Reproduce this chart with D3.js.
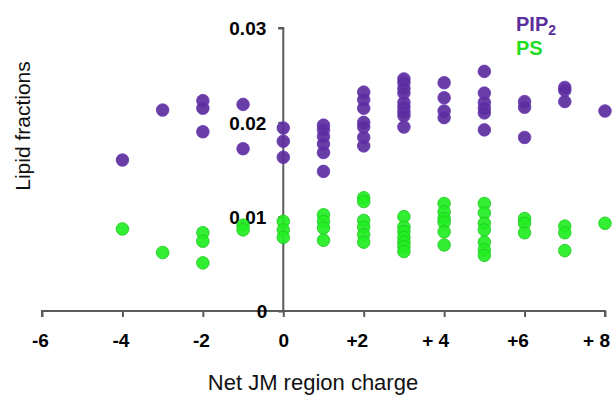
<!DOCTYPE html>
<html>
<head>
<meta charset="utf-8">
<script src="https://cdn.jsdelivr.net/npm/d3@7"></script>
<style>
  body { margin: 0; background: #fff; }
  svg { font-family: Arial, "Liberation Sans", sans-serif; }
</style>
</head>
<body>
<svg width="613" height="395"></svg>
<script>
// net charge of JM region for each group
var charges = [-4, -3, -2, -1, 0, 1, 2, 3, 4, 5, 6, 7, 8];

// PIP2 fractions, one list per charge
var pip2Values = [
    [0.0160],
    [0.0213],
    [0.0223, 0.0215, 0.0190],
    [0.0219, 0.0172],
    [0.0194, 0.0180, 0.0163],
    [0.0197, 0.0192, 0.0185, 0.0177, 0.0168, 0.0148],
    [0.0232, 0.0224, 0.0215, 0.0200, 0.0195, 0.0184, 0.0175],
    [0.0246, 0.0242, 0.0236, 0.0231, 0.0221, 0.0216, 0.0211, 0.0207, 0.0195],
    [0.0242, 0.0226, 0.0212, 0.0205],
    [0.0254, 0.0231, 0.0221, 0.0215, 0.0210, 0.0192],
    [0.0222, 0.0216, 0.0184],
    [0.0237, 0.0234, 0.0222],
    [0.0212]
];

// PS fractions, one list per charge
var psValues = [
    [0.0087],
    [0.0062],
    [0.0083, 0.0074, 0.0051],
    [0.0091, 0.0086],
    [0.0095, 0.0086, 0.0078],
    [0.0102, 0.0095, 0.0088, 0.0075],
    [0.0120, 0.0116, 0.0096, 0.0089, 0.0081, 0.0073],
    [0.0100, 0.0089, 0.0084, 0.0078, 0.0073, 0.0068, 0.0063],
    [0.0114, 0.0105, 0.0098, 0.0094, 0.0084, 0.0070],
    [0.0114, 0.0104, 0.0093, 0.0086, 0.0073, 0.0065, 0.0059],
    [0.0098, 0.0093, 0.0083],
    [0.0090, 0.0083, 0.0064],
    [0.0093]
];

var xTicks = [-6, -4, -2, 0, 2, 4, 6, 8];
var xTickLabels = ["-6", "-4", "-2", "0", "+2", "+ 4", "+6", "+ 8"];
var yTicks = [0, 0.01, 0.02, 0.03];
var yTickLabels = ["0", "0.01", "0.02", "0.03"];

var svg = d3.select("svg");

var x = d3.scaleLinear().domain([-6, 8]).range([42, 605]);
var y = d3.scaleLinear().domain([0, 0.03]).range([311, 28]);

var axisColor = "#5a5a5a";

// x axis, ticks pointing down
var xAxis = d3.axisBottom(x)
    .tickValues(xTicks)
    .tickSize(6)
    .tickFormat(function (d, i) { return xTickLabels[i]; });

var gx = svg.append("g")
    .attr("transform", `translate(0, ${y(0)})`)
    .call(xAxis);
gx.select(".domain").attr("stroke", axisColor).attr("stroke-width", 2)
    .attr("d", `M${x(-6)},6V0H${x(8)}V6`);
gx.selectAll(".tick line").attr("stroke", axisColor).attr("stroke-width", 2);
// digits sit on the tick, the sign hangs to the left
gx.selectAll(".tick text")
    .attr("y", 36)
    .attr("dy", 0)
    .attr("dx", function (d, i) {
        var t = xTickLabels[i];
        if (t[0] === "+") return t.length > 2 ? -9 : -7;
        if (t[0] === "-") return -2;
        return 0;
    })
    .attr("fill", "#000")
    .style("font-size", "19px")
    .style("font-weight", "bold");

// y axis through x = 0
var yAxis = d3.axisLeft(y)
    .tickValues(yTicks)
    .tickSize(5)
    .tickFormat(function (d, i) { return yTickLabels[i]; });

var gy = svg.append("g")
    .attr("transform", `translate(${x(0)}, 0)`)
    .call(yAxis);
gy.select(".domain").attr("stroke", axisColor).attr("stroke-width", 2)
    .attr("d", `M-5,${y(0.03)}H0V${y(0)}`);
gy.selectAll(".tick line").attr("stroke", axisColor).attr("stroke-width", 2);
gy.selectAll(".tick text")
    .attr("x", -17)
    .attr("dy", "0.36em")
    .attr("fill", "#000")
    .style("font-size", "19px")
    .style("font-weight", "bold");
gy.selectAll(".tick").filter(function (d) { return d === 0; })
    .select("text").attr("x", -16);

// flatten the groups into points
function toPoints(values) {
    var pts = [];
    values.forEach(function (list, i) {
        list.forEach(function (v) { pts.push({ c: charges[i], v: v }); });
    });
    return pts;
}

function drawSeries(values, fill, stroke) {
    svg.append("g")
        .selectAll("circle")
        .data(toPoints(values))
        .enter().append("circle")
        .attr("cx", function (d) { return x(d.c); })
        .attr("cy", function (d) { return y(d.v); })
        .attr("r", 6.3)
        .attr("fill", fill)
        .attr("fill-opacity", 0.92)
        .attr("stroke", stroke)
        .attr("stroke-width", 0.8);
}

drawSeries(psValues, "#22ee22", "#1fc81f");
drawSeries(pip2Values, "#5c2d9e", "#6a3ab4");

// legend
var legend = svg.append("g").style("font-size", "20px").style("font-weight", "bold");
var pipText = legend.append("text").attr("x", 516).attr("y", 31).attr("fill", "#5c2d9e");
pipText.append("tspan").text("PIP");
pipText.append("tspan").attr("dy", 4).style("font-size", "14px").text("2");
legend.append("text").attr("x", 516).attr("y", 55).attr("fill", "#22dd22").text("PS");

// axis titles
svg.append("text")
    .attr("transform", "translate(30, 126) rotate(-90)")
    .attr("text-anchor", "middle")
    .style("font-size", "21px")
    .attr("fill", "#111")
    .text("Lipid fractions");

svg.append("text")
    .attr("x", 313)
    .attr("y", 390)
    .attr("text-anchor", "middle")
    .style("font-size", "22px")
    .attr("fill", "#111")
    .text("Net JM region charge");
</script>
</body>
</html>
